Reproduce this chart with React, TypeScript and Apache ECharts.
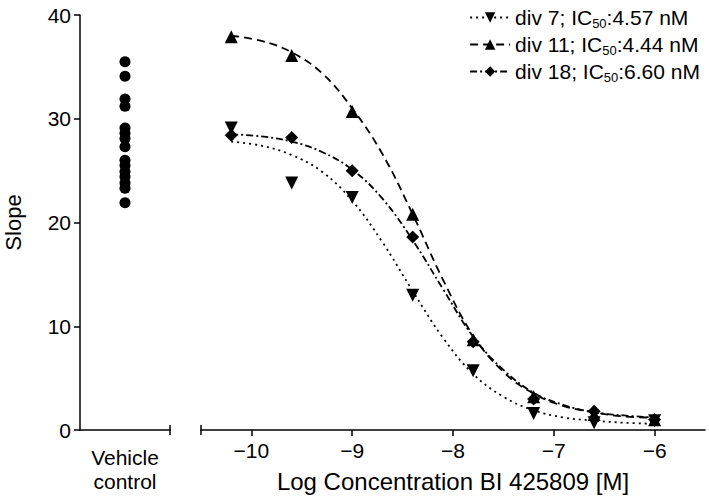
import React, { useEffect, useRef } from "react";
import * as echarts from "echarts";

// Measured concentrations (log M)
const concentrations = [-10.2, -9.6, -9.0, -8.4, -7.8, -7.2, -6.6, -6.0];
const div7Values = [29.1, 23.8, 22.4, 13.0, 5.7, 1.6, 0.7, 0.9];
const div11Values = [37.9, 36.1, 30.7, 20.8, 8.7, 3.2, 1.5, 1.0];
const div18Values = [28.4, 28.2, 25.0, 18.6, 8.5, 3.0, 1.8, 1.0];

// Fitted curves
const curveX = [-10.2, -9.9, -9.6, -9.3, -9.0, -8.7, -8.4, -8.1, -7.8, -7.5, -7.2, -6.9, -6.6, -6.3, -6.0];
const div7Curve = [27.8, 27.4, 26.5, 24.9, 22.1, 18.1, 13.4, 8.9, 5.4, 3.2, 1.9, 1.2, 0.9, 0.7, 0.6];
const div11Curve = [38.0, 37.5, 36.4, 34.4, 31.0, 26.6, 20.8, 14.5, 9.1, 5.6, 3.5, 2.3, 1.7, 1.3, 1.2];
const div18Curve = [28.5, 28.3, 27.8, 26.8, 25.1, 22.3, 18.3, 13.6, 9.0, 5.8, 3.6, 2.4, 1.7, 1.4, 1.2];

// Vehicle control values
const vehicleValues = [35.5, 34.1, 31.9, 31.2, 29.1, 28.6, 28.1, 27.3, 26.0, 25.5, 24.9, 24.4, 23.8, 23.3, 21.9];

const seriesNames = ["div 7", "div 11", "div 18"];
const ic50Labels = ["4.57", "4.44", "6.60"];
const xTicks = [-10, -9, -8, -7, -6];
const yTicks = [0, 10, 20, 30, 40];

const FONT = "'Liberation Sans', Arial, Helvetica, sans-serif";

const zip = (xs: number[], ys: number[]) => xs.map((x, i) => [x, ys[i]]);

export default function App() {
  const ref = useRef<HTMLDivElement>(null);
  useEffect(() => {
    if (!ref.current) return;
    const chart = echarts.init(ref.current, null, { renderer: "svg" });
    const fmtMinus = (v: number) => (v < 0 ? "\u2212" + Math.abs(v) : String(v));
    const lineStyles: any[] = [
      { type: [2, 4], width: 1.8 },
      { type: [8, 5], width: 1.8 },
      { type: [7, 3, 2, 3], width: 1.8 },
    ];
    const symbols = [
      { symbol: "triangle", symbolRotate: 180, symbolSize: 13 },
      { symbol: "triangle", symbolRotate: 0, symbolSize: 13 },
      { symbol: "diamond", symbolRotate: 0, symbolSize: 13 },
    ];
    const curves = [div7Curve, div11Curve, div18Curve];
    const points = [div7Values, div11Values, div18Values];

    const series: any[] = [];
    seriesNames.forEach((name, i) => {
      series.push({
        name,
        type: "line",
        xAxisIndex: 1,
        yAxisIndex: 1,
        data: zip(curveX, curves[i]),
        smooth: 0.4,
        showSymbol: false,
        symbol: symbols[i].symbol,
        symbolRotate: symbols[i].symbolRotate,
        symbolSize: symbols[i].symbolSize,
        lineStyle: { color: "#000", ...lineStyles[i] },
        itemStyle: { color: "#000", opacity: 1 },
        silent: true,
        z: 2,
      });
      series.push({
        name,
        type: "scatter",
        xAxisIndex: 1,
        yAxisIndex: 1,
        data: zip(concentrations, points[i]),
        ...symbols[i],
        itemStyle: { color: "#000", opacity: 1 },
        z: 3,
      });
    });
    series.push({
      name: "Vehicle",
      type: "scatter",
      xAxisIndex: 0,
      yAxisIndex: 0,
      data: vehicleValues.map((v) => [1, v]),
      symbol: "circle",
      symbolSize: 11,
      itemStyle: { color: "#000", opacity: 1 },
    });

    const axisLine = { show: true, lineStyle: { color: "#000", width: 1.5 } };
    const option: any = {
      animation: false,
      textStyle: { fontFamily: FONT },
      grid: [
        { left: 80, top: 15, width: 90, height: 415 },
        { left: 201, top: 15, width: 504, height: 415 },
      ],
      xAxis: [
        {
          type: "value",
          gridIndex: 0,
          min: 0,
          max: 2,
          axisLine,
          axisTick: { show: false },
          splitLine: { show: false },
          axisLabel: {
            customValues: [1],
            formatter: () => "Vehicle\ncontrol",
            color: "#000",
            fontSize: 21,
            lineHeight: 24,
            margin: 15,
            fontFamily: FONT,
          },
        },
        {
          type: "value",
          gridIndex: 1,
          min: -10.5,
          max: -5.5,
          axisLine,
          axisTick: { show: true, customValues: xTicks, length: 6, lineStyle: { color: "#000", width: 1.5 } },
          splitLine: { show: false },
          axisLabel: {
            customValues: xTicks,
            formatter: fmtMinus,
            color: "#000",
            fontSize: 21,
            margin: 10,
            fontFamily: FONT,
          },
          name: "Log Concentration BI 425809 [M]",
          nameLocation: "middle",
          nameGap: 39,
          nameTextStyle: { color: "#000", fontSize: 24, fontFamily: FONT },
        },
      ],
      yAxis: [
        {
          type: "value",
          gridIndex: 0,
          min: 0,
          max: 40,
          interval: 10,
          axisLine,
          axisTick: { show: true, length: 6, lineStyle: { color: "#000", width: 1.5 } },
          splitLine: { show: false },
          axisLabel: {
            customValues: yTicks,
            color: "#000",
            fontSize: 21,
            margin: 9,
            fontFamily: FONT,
          },
          name: "Slope",
          nameLocation: "middle",
          nameGap: 56,
          nameTextStyle: { color: "#000", fontSize: 22, fontFamily: FONT },
        },
        {
          type: "value",
          gridIndex: 1,
          min: 0,
          max: 40,
          show: false,
        },
      ],
      legend: {
        data: seriesNames,
        orient: "vertical",
        right: 4,
        top: 2,
        itemWidth: 40,
        itemHeight: 13,
        itemGap: 4,
        formatter: (name: string) => {
          const i = seriesNames.indexOf(name);
          return `${name}; IC{sub|50}:${ic50Labels[i]} nM`;
        },
        textStyle: {
          color: "#000",
          fontSize: 21,
          fontFamily: FONT,
          rich: {
            sub: { fontSize: 13, padding: [12, 0, 0, 0], fontFamily: FONT, color: "#000" },
          },
        },
      },
      graphic: [
        { type: "line", shape: { x1: 170, y1: 425, x2: 170, y2: 435 }, style: { stroke: "#000", lineWidth: 1.5 } },
        { type: "line", shape: { x1: 201, y1: 425, x2: 201, y2: 435 }, style: { stroke: "#000", lineWidth: 1.5 } },
      ],
      series,
    };
    chart.setOption(option);
    return () => chart.dispose();
  }, []);
  return <div ref={ref} style={{ width: 709, height: 498, position: "absolute", left: 0, top: 0 }} />;
}
